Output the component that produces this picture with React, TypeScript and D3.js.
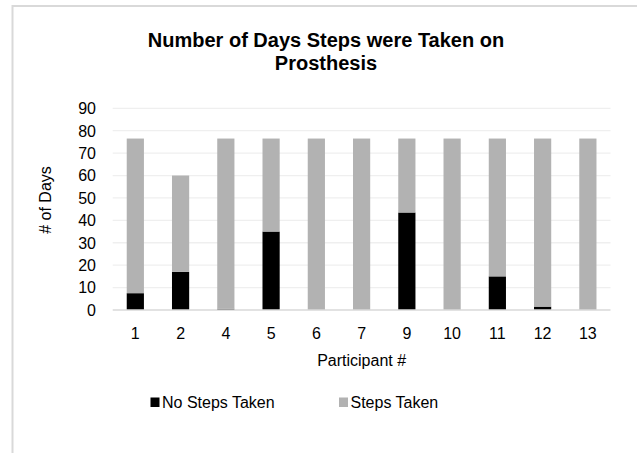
import React from 'react';
import * as d3 from 'd3';

// values
const participants = ['1', '2', '4', '5', '6', '7', '9', '10', '11', '12', '13'];
const noStepsTaken = [7.5, 17, 0.5, 35, 0, 0, 43.5, 0, 15, 1.5, 0];
const stepsTaken = [69, 43, 76, 41.5, 76.5, 76.5, 33, 76.5, 61.5, 75, 76.5];
const seriesNames = ['No Steps Taken', 'Steps Taken'];
const seriesColors = ['#000000', '#b2b2b2'];
const yTicks = [0, 10, 20, 30, 40, 50, 60, 70, 80, 90];

const W = 637;
const H = 453;
const font = 'Liberation Sans, Arial, sans-serif';

const App = () => {
  // plot area edges
  const left = 112.7;
  const right = 610.5;
  const top = 108.3;
  const bottom = 310;

  const x = d3.scaleBand().domain(participants).range([left, right]).paddingInner(0.62).paddingOuter(0.31);
  const y = d3.scaleLinear().domain([0, 90]).range([bottom, top]);

  const rows = participants.map((p, i) => ({ p, a: noStepsTaken[i], b: stepsTaken[i] }));
  const stacked = d3.stack().keys(['a', 'b'])(rows);

  const legendX = [150.5, 339];

  return (
    <svg width={W} height={H} style={{ position: 'absolute', left: 0, top: 0, background: '#fff' }} fontFamily={font}>
      <rect x={12.5} y={6} width={640} height={460} fill="#fff" stroke="#d9d9d9" strokeWidth={2} />

      <text x={326} y={46.5} textAnchor="middle" fontSize={20} fontWeight="bold" fill="#000">
        Number of Days Steps were Taken on
      </text>
      <text x={326} y={70} textAnchor="middle" fontSize={20} fontWeight="bold" fill="#000">
        Prosthesis
      </text>

      {/* gridlines */}
      {yTicks.slice(1).map((t) => (
        <line key={t} x1={left} x2={right} y1={y(t)} y2={y(t)} stroke="#efefef" strokeWidth={1.3} />
      ))}

      {/* bars */}
      {stacked.map((s, si) => (
        <g key={si} fill={seriesColors[si]}>
          {s.map((d, i) => (
            <rect
              key={i}
              x={x(participants[i])}
              width={x.bandwidth()}
              y={y(d[1])}
              height={Math.max(0, y(d[0]) - y(d[1]))}
            />
          ))}
        </g>
      ))}

      {/* baseline */}
      <line x1={left} x2={right} y1={bottom} y2={bottom} stroke="#d9d9d9" strokeWidth={1.3} />

      {/* y tick labels */}
      {yTicks.map((t) => (
        <text key={t} x={96} y={y(t) + 5.8} textAnchor="end" fontSize={16} fill="#000">
          {t}
        </text>
      ))}

      {/* x tick labels */}
      {participants.map((p) => (
        <text key={p} x={x(p) + x.bandwidth() / 2} y={339} textAnchor="middle" fontSize={16} fill="#000">
          {p}
        </text>
      ))}

      <text x={(left + right) / 2} y={366} textAnchor="middle" fontSize={16} fill="#000">
        Participant #
      </text>
      <text transform="translate(51,200) rotate(-90)" textAnchor="middle" fontSize={16} fill="#000">
        # of Days
      </text>

      {/* legend */}
      {seriesNames.map((n, i) => (
        <g key={n}>
          <rect x={legendX[i]} y={397.5} width={9} height={9.5} fill={seriesColors[i]} />
          <text x={legendX[i] + 11.5} y={408} fontSize={16} fill="#000">
            {n}
          </text>
        </g>
      ))}
    </svg>
  );
};

export default App;
